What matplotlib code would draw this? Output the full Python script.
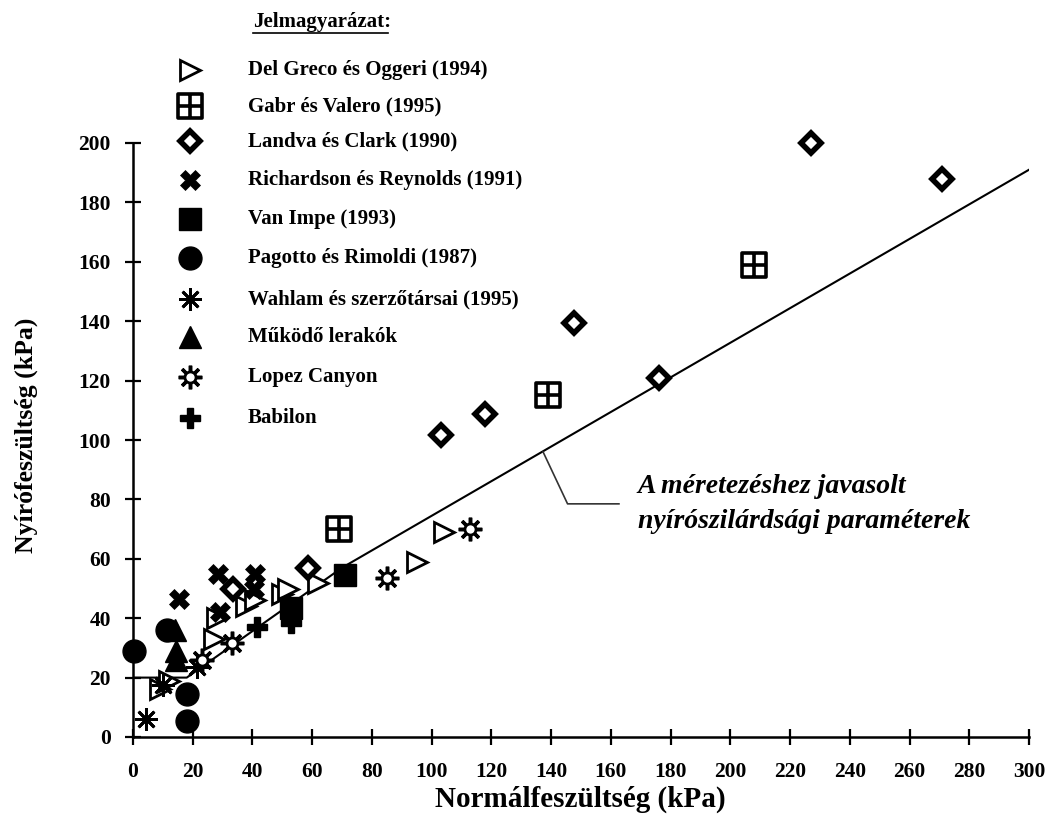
import numpy as np
import matplotlib.pyplot as plt
from matplotlib.path import Path

plt.rcParams['font.family'] = ['Liberation Serif', 'DejaVu Serif']
plt.rcParams['font.weight'] = 'bold'

# --- data (kPa) ---
del_greco_x = [9, 12, 27, 28, 38, 41, 50, 52, 62, 95, 104]
del_greco_y = [16, 19, 33, 40, 44, 46, 48, 50, 52, 59, 69]
gabr_x = [69, 139, 208]
gabr_y = [70, 115, 159]
landva_x = [33.5, 58.6, 103, 118, 147.6, 176, 227, 271]
landva_y = [50, 57, 101.7, 108.8, 139.4, 121, 200, 188]
richardson_x = [15.5, 28.5, 29, 40.5, 41]
richardson_y = [46.5, 55, 42, 50, 55]
vanimpe_x = [53, 71]
vanimpe_y = [43.5, 54.5]
pagotto_x = [0.5, 11.5, 18, 18]
pagotto_y = [29, 36, 14.5, 5.5]
wahlam_x = [4.5, 10, 21.5]
wahlam_y = [6, 17.5, 23.5]
mukodo_x = [14, 14.5, 14.5]
mukodo_y = [36, 29, 26]
lopez_x = [23, 33, 85, 113]
lopez_y = [26, 31.5, 53.5, 70]
babilon_x = [41.5, 53]
babilon_y = [37, 38.5]

# javasolt burkolo
env_x = [0, 18, 70, 300]
env_y = [20, 20, 57, 191]

labels = ['Del Greco és Oggeri (1994)', 'Gabr és Valero (1995)', 'Landva és Clark (1990)',
          'Richardson és Reynolds (1991)', 'Van Impe (1993)', 'Pagotto és Rimoldi (1987)',
          'Wahlam és szerzőtársai (1995)', 'Működő lerakók', 'Lopez Canyon', 'Babilon']

boxplus = Path([(-1, -1), (1, -1), (1, 1), (-1, 1), (-1, -1), (0, -1), (0, 1), (-1, 0), (1, 0)],
               [Path.MOVETO, Path.LINETO, Path.LINETO, Path.LINETO, Path.CLOSEPOLY,
                Path.MOVETO, Path.LINETO, Path.MOVETO, Path.LINETO])

fig = plt.figure(figsize=(10.48, 8.14), dpi=100)
ax = fig.add_axes([133/1048, 77/814, 896/1048, 594/814])

ax.plot(env_x, env_y, color='black', lw=1.5, zorder=2)

kw = dict(linestyle='none', clip_on=False, zorder=3)


def draw(a, key, x, y):
    if key == 0:
        a.plot(x, y, marker='>', ms=15, mfc='white', mec='black', mew=2, **kw)
    elif key == 1:
        a.plot(x, y, marker=boxplus, ms=17, mfc='none', mec='black', mew=2.6, **kw)
    elif key == 2:
        a.plot(x, y, marker='D', ms=10, mfc='white', mec='black', mew=4, **kw)
    elif key == 3:
        a.plot(x, y, marker='X', ms=14.5, mfc='black', mec='black', mew=0.5, **kw)
    elif key == 4:
        a.plot(x, y, marker='s', ms=16.5, mfc='black', mec='black', **kw)
    elif key == 5:
        a.plot(x, y, marker='o', ms=16.5, mfc='black', mec='black', **kw)
    elif key == 6:
        a.plot(x, y, marker=(8, 2, 0), ms=16, mec='black', mew=2, **kw)
    elif key == 7:
        a.plot(x, y, marker='^', ms=16, mfc='black', mec='black', **kw)
    elif key == 8:
        a.plot(x, y, marker=(8, 2, 0), ms=17, mec='black', mew=2.5, **kw)
        a.plot(x, y, marker='o', ms=8, mfc='white', mec='black', mew=2, **kw)
    elif key == 9:
        a.plot(x, y, marker='P', ms=15, mfc='black', mec='black', **kw)


series = [(del_greco_x, del_greco_y), (gabr_x, gabr_y), (landva_x, landva_y),
          (richardson_x, richardson_y), (vanimpe_x, vanimpe_y), (pagotto_x, pagotto_y),
          (wahlam_x, wahlam_y), (mukodo_x, mukodo_y), (lopez_x, lopez_y), (babilon_x, babilon_y)]
for k, (sx, sy) in enumerate(series):
    draw(ax, k, sx, sy)

ax.set_xlim(0, 300)
ax.set_ylim(0, 200)
ax.set_xticks(np.arange(0, 301, 20))
ax.set_yticks(np.arange(0, 201, 20))
for s in ['top', 'right']:
    ax.spines[s].set_visible(False)
for s in ['left', 'bottom']:
    ax.spines[s].set_linewidth(1.8)
ax.tick_params(direction='inout', length=12, width=1.6, labelsize=15.5)
ax.tick_params(axis='x', pad=12)
ax.tick_params(axis='y', pad=10)

# leader + annotation text
ax.plot([137.3, 145.5, 162.7], [96, 78.5, 78.5], color='#333333', lw=1.2, zorder=2)
ax.text(169, 84.2, 'A méretezéshez javasolt', style='italic', fontsize=20,
        va='center', ha='left')
ax.text(169, 72.4, 'nyírószilárdsági paraméterek', style='italic', fontsize=20,
        va='center', ha='left')

fig.text(580/1048, 1/814, 'Normálfeszültség (kPa)', ha='center', va='bottom', fontsize=21)
fig.text(26/1048, (814 - 435)/814, 'Nyírófeszültség (kPa)', ha='center', va='center',
         rotation=90, fontsize=18.5)

# legend (Jelmagyarázat)
lax = fig.add_axes([0, 0, 1, 1], facecolor='none')
lax.set_xlim(0, 1048)
lax.set_ylim(814, 0)
lax.axis('off')
lax.text(253, 22, 'Jelmagyarázat:', fontsize=15, va='center', ha='left')
lax.plot([253, 388], [33, 33], color='black', lw=1.2)
rows = [70, 106, 141, 180, 219, 258, 299, 337, 377, 418]
for k, (yy, lab) in enumerate(zip(rows, labels)):
    draw(lax, k, [190], [yy])
    lax.text(248, yy, lab, fontsize=15, va='center', ha='left')

fig.savefig('out.png', dpi=100)
